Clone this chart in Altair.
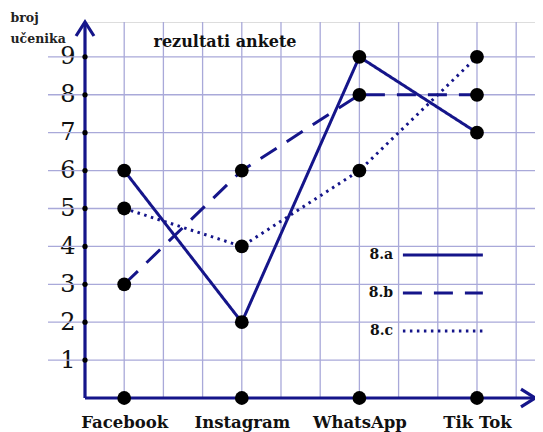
import altair as alt
import pandas as pd

# ---- data ----
categories = ["Facebook", "Instagram", "WhatsApp", "Tik Tok"]
cat_pos = [1, 4, 7, 10]          # grid-unit positions of the categories
series = ["8.a", "8.b", "8.c"]
vals_a = [6, 2, 9, 7]
vals_b = [3, 6, 8, 8]
vals_c = [5, 4, 6, 9]
y_ticks = [1, 2, 3, 4, 5, 6, 7, 8, 9]
x_grid = [1, 2, 3, 4, 5, 6, 7, 8, 9, 10, 11]
legend_y = [3.77, 2.77, 1.77]

NAVY = "#15158a"
GRID = "#a9a9d9"
SERIF = "DejaVu Serif"

W, H = 450, 376
XMAX, YMAX = 11.48, 9.92

xs = alt.Scale(domain=[0, XMAX], nice=False, zero=False)
ys = alt.Scale(domain=[0, YMAX], nice=False, zero=False)

rows = []
for s, vals in zip(series, [vals_a, vals_b, vals_c]):
    for c, p, v in zip(categories, cat_pos, vals):
        rows.append({"series": s, "cat": c, "x": p, "y": v})
df = pd.DataFrame(rows)

dash_scale = alt.Scale(domain=series, range=[[1, 0], [19, 12], [2.5, 4.5]])
width_scale = alt.Scale(domain=series, range=[3, 3, 2.6])

label_expr = " : ".join(
    f"datum.value == {p} ? '{c}'" for p, c in zip(cat_pos, categories)
) + " : ''"

base_df = pd.DataFrame({"x": cat_pos, "y": [0] * len(cat_pos)})

hgrid = alt.Chart(pd.DataFrame({"y": y_ticks})).mark_rule(
    color=GRID, strokeWidth=1.3
).encode(
    y=alt.Y("y:Q", scale=ys,
            axis=alt.Axis(values=y_ticks, grid=False, ticks=False, domain=False,
                          labelFont=SERIF, labelFontSize=24, labelColor="#111",
                          labelPadding=10,
                          title=["broj", "učenika"], titleAngle=0,
                          titleFont=SERIF, titleFontSize=12.5, titleFontWeight="bold",
                          titleColor="#222", titleAlign="left",
                          titleBaseline="alphabetic", titleX=-75, titleY=-1,
                          titleLineHeight=21)),
    x=alt.value(-37),
    x2=alt.value(W),
)

vgrid = alt.Chart(pd.DataFrame({"x": x_grid})).mark_rule(
    color=GRID, strokeWidth=1.3
).encode(
    x=alt.X("x:Q", scale=xs,
            axis=alt.Axis(values=cat_pos, labelExpr=label_expr, grid=False,
                          ticks=False, domain=False, labelFont=SERIF,
                          labelFontSize=16.5, labelFontWeight="bold",
                          labelColor="#111", labelBaseline="alphabetic",
                          labelPadding=29, title=None)),
    y=alt.value(0),
    y2=alt.value(H),
)

yaxis_line = alt.Chart(pd.DataFrame({"x": [0], "y": [0], "y2": [YMAX]})).mark_rule(
    color=NAVY, strokeWidth=3.2
).encode(x=alt.X("x:Q", scale=xs), y=alt.Y("y:Q", scale=ys), y2="y2:Q")
xaxis_line = alt.Chart(pd.DataFrame({"x": [0], "x2": [XMAX], "y": [0]})).mark_rule(
    color=NAVY, strokeWidth=3.2
).encode(x=alt.X("x:Q", scale=xs), x2="x2:Q", y=alt.Y("y:Q", scale=ys))

up_arrow = alt.Chart(pd.DataFrame({"x": [0], "y": [YMAX]})).mark_point(
    shape="M-0.64,1L0,0L0.64,1", size=784, filled=False, color=NAVY,
    strokeWidth=3.2, opacity=1
).encode(x=alt.X("x:Q", scale=xs), y=alt.Y("y:Q", scale=ys))
right_arrow = alt.Chart(pd.DataFrame({"x": [XMAX], "y": [0]})).mark_point(
    shape="M-1,-0.64L0,0L-1,0.64", size=784, filled=False, color=NAVY,
    strokeWidth=3.2, opacity=1
).encode(x=alt.X("x:Q", scale=xs), y=alt.Y("y:Q", scale=ys))

tick_dots = alt.Chart(pd.DataFrame({"x": [0] * len(y_ticks), "y": y_ticks})).mark_circle(
    color="black", size=28, opacity=1
).encode(x=alt.X("x:Q", scale=xs), y=alt.Y("y:Q", scale=ys))

lines = alt.Chart(df).mark_line(color=NAVY).encode(
    x=alt.X("x:Q", scale=xs),
    y=alt.Y("y:Q", scale=ys),
    detail="series:N",
    strokeDash=alt.StrokeDash("series:N", scale=dash_scale, legend=None),
    strokeWidth=alt.StrokeWidth("series:N", scale=width_scale, legend=None),
)

points = alt.Chart(df).mark_circle(color="black", size=190, opacity=1).encode(
    x=alt.X("x:Q", scale=xs), y=alt.Y("y:Q", scale=ys)
)
base_points = alt.Chart(base_df).mark_circle(color="black", size=190, opacity=1).encode(
    x=alt.X("x:Q", scale=xs), y=alt.Y("y:Q", scale=ys)
)

leg_df = pd.DataFrame({"series": series, "y": legend_y,
                       "tx": [7.86] * 3, "x1": [8.11] * 3, "x2": [10.15] * 3})
leg_text = alt.Chart(leg_df).mark_text(
    font=SERIF, fontSize=14, fontWeight="bold", align="right",
    baseline="middle", color="#111"
).encode(x=alt.X("tx:Q", scale=xs), y=alt.Y("y:Q", scale=ys), text="series:N")
leg_rules = alt.Chart(leg_df).mark_rule(color=NAVY).encode(
    x=alt.X("x1:Q", scale=xs), x2="x2:Q", y=alt.Y("y:Q", scale=ys),
    strokeDash=alt.StrokeDash("series:N", scale=dash_scale, legend=None),
    strokeWidth=alt.StrokeWidth("series:N", scale=width_scale, legend=None),
)

title_txt = alt.Chart(pd.DataFrame({"t": ["rezultati ankete"]})).mark_text(
    font=SERIF, fontSize=16, fontWeight="bold", align="center",
    baseline="middle", color="#111"
).encode(text="t:N", x=alt.value(140), y=alt.value(20))

chart = alt.layer(
    hgrid, vgrid, lines, yaxis_line, xaxis_line, up_arrow, right_arrow,
    tick_dots, points, base_points, leg_rules, leg_text, title_txt
).properties(
    width=W, height=H,
    autosize="none",
    padding={"left": 77, "top": 14, "right": 0, "bottom": 40},
).configure_view(stroke=None).configure(background="white")

chart.save("out.html", embed_options={"renderer": "svg", "actions": False})
